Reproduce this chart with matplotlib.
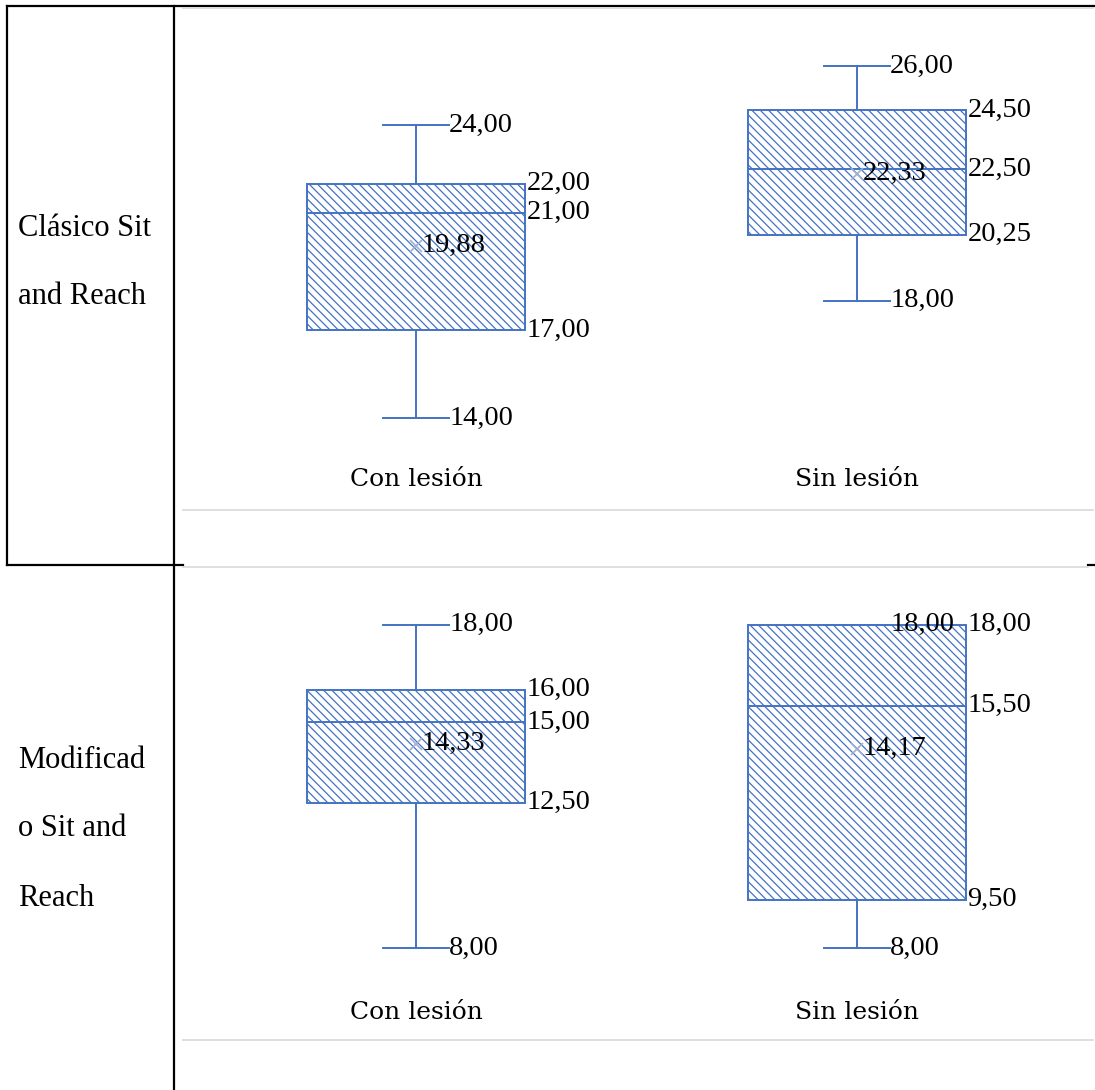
import matplotlib.pyplot as plt
from matplotlib.lines import Line2D

# data
groups = ["Con lesión", "Sin lesión"]

clasico_min = [14.00, 18.00]
clasico_q1 = [17.00, 20.25]
clasico_med = [21.00, 22.50]
clasico_q3 = [22.00, 24.50]
clasico_max = [24.00, 26.00]
clasico_mean = [19.88, 22.33]

modif_min = [8.00, 8.00]
modif_q1 = [12.50, 9.50]
modif_med = [15.00, 15.50]
modif_q3 = [16.00, 18.00]
modif_max = [18.00, 18.00]
modif_mean = [14.33, 14.17]

row1_lines = ["Clásico Sit", "and Reach"]
row2_lines = ["Modificad", "o Sit and", "Reach"]

plt.rcParams['font.family'] = ['Liberation Serif', 'DejaVu Serif']

W, H = 1095, 1090
BLUE = '#4472C4'
plt.rcParams['hatch.linewidth'] = 0.9

fig = plt.figure(figsize=(W / 100, H / 100), dpi=100)


def fx(x):
    return x / W


def fy(y):
    return 1 - y / H


def hline(y, x0, x1, color='black', lw=1.6):
    fig.add_artist(Line2D([fx(x0), fx(x1)], [fy(y), fy(y)], color=color, lw=lw))


def vline(x, y0, y1, color='black', lw=1.6):
    fig.add_artist(Line2D([fx(x), fx(x)], [fy(y0), fy(y1)], color=color, lw=lw))


def fmt(v):
    return f"{v:.2f}".replace('.', ',')


FS = 20.5


def draw_box(ax, mins, q1s, meds, q3s, maxs, means, label_y):
    stats = []
    for i in range(len(groups)):
        stats.append(dict(whislo=mins[i], q1=q1s[i], med=meds[i], q3=q3s[i],
                          whishi=maxs[i], mean=means[i], fliers=[]))
    pos = [1, 2]
    w = 0.495
    cw = 0.15
    ax.bxp(stats, positions=pos, widths=w, capwidths=cw, patch_artist=True,
           showmeans=True, showfliers=False,
           boxprops=dict(facecolor='white', edgecolor=BLUE, hatch='\\' * 4, lw=1.4),
           medianprops=dict(color=BLUE, lw=1.4),
           whiskerprops=dict(color=BLUE, lw=1.4),
           capprops=dict(color=BLUE, lw=1.4),
           meanprops=dict(marker='x', markeredgecolor='#9DB0D3', markersize=9, mew=1.2))
    for i, p in enumerate(pos):
        # whisker ends, labels start right after the cap
        for v in (mins[i], maxs[i]):
            ax.annotate(fmt(v), (p + cw / 2, v), xytext=(0, 0), textcoords='offset points',
                        ha='left', va='center', fontsize=FS)
        for v in (q1s[i], meds[i], q3s[i]):
            ax.annotate(fmt(v), (p + w / 2, v), xytext=(1, 0), textcoords='offset points',
                        ha='left', va='center', fontsize=FS)
        ax.annotate(fmt(means[i]), (p, means[i]), xytext=(4, 0), textcoords='offset points',
                    ha='left', va='center', fontsize=FS)
        ax.text(p, label_y, groups[i], transform=ax.get_xaxis_transform(),
                ha='center', va='center', fontsize=18, family='DejaVu Serif')
    ax.set_xlim(0.5, 2.5)
    ax.axis('off')


ax1 = fig.add_axes([fx(195.5), fy(510), 882 / W, (510 - 6) / H])
draw_box(ax1, clasico_min, clasico_q1, clasico_med, clasico_q3, clasico_max, clasico_mean, 0.06)
ax1.set_ylim(10.86, 28.06)

ax2 = fig.add_axes([fx(195.5), fy(1040), 882 / W, (1040 - 565) / H])
draw_box(ax2, modif_min, modif_q1, modif_med, modif_q3, modif_max, modif_mean, 0.057)
ax2.set_ylim(5.17, 19.85)

# table frame
hline(6, 7, W)
vline(7, 6, 565)
vline(174, 6, H)
hline(565, 7, 183)
hline(565, 1088, W)
GREY = '#D9D9D9'
hline(8, 183, 1093, color=GREY, lw=1.2)
hline(510, 183, 1093, color=GREY, lw=1.2)
hline(567, 183, 1088, color=GREY, lw=1.2)
hline(1040, 183, 1093, color=GREY, lw=1.2)

for txt, y in zip(row1_lines, [228, 297]):
    fig.text(fx(18), fy(y), txt, ha='left', va='center', fontsize=22)
for txt, y in zip(row2_lines, [760, 829, 898]):
    fig.text(fx(18), fy(y), txt, ha='left', va='center', fontsize=22)

fig.savefig('out.png', dpi=100)
